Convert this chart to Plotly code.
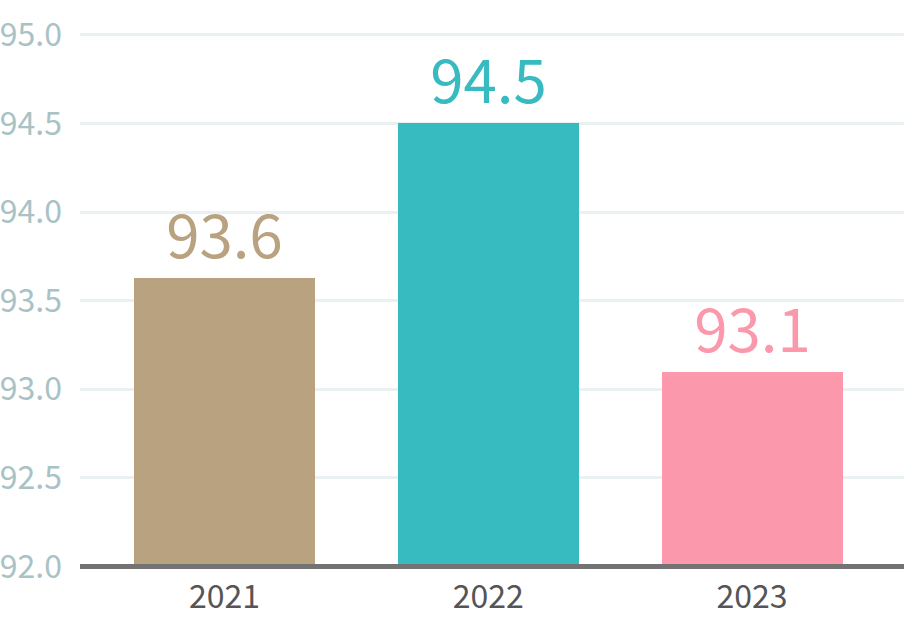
import plotly.graph_objects as go

years = ["2021", "2022", "2023"]
values = [93.63, 94.5, 93.1]
labels = ["93.6", "94.5", "93.1"]
colors = ["#b9a27f", "#38bbc0", "#fb98ab"]
ytick_vals = [92.0, 92.5, 93.0, 93.5, 94.0, 94.5, 95.0]

x_pos = list(range(len(years)))

fig = go.Figure()
fig.add_trace(go.Bar(
    x=x_pos,
    y=[v - 92.0 for v in values],
    base=92.0,
    width=0.686,
    marker=dict(color=colors, line=dict(width=0)),
    text=labels,
    textposition="outside",
    textfont=dict(family="Noto Sans CJK JP", size=60, color=colors),
    cliponaxis=False,
    hoverinfo="skip",
))

fig.update_layout(
    width=904, height=618,
    margin=dict(l=80, r=0, t=26, b=47.5, autoexpand=False),
    paper_bgcolor="white", plot_bgcolor="white",
    showlegend=False,
    bargap=0,
    xaxis=dict(
        range=[-0.548, 2.576],
        automargin=False,
        tickmode="array", tickvals=x_pos, ticktext=years,
        tickfont=dict(family="Noto Sans CJK JP", size=32, color="#555555"),
        showgrid=False, zeroline=False,
        showline=False, ticks="",
        ticklabelstandoff=5,
    ),
    yaxis=dict(
        range=[91.98, 95.05],
        automargin=False,
        tickmode="array", tickvals=ytick_vals,
        ticktext=[f"{v:.1f}" for v in ytick_vals],
        tickfont=dict(family="Noto Sans CJK JP", size=32, color="#a9c2c5"),
        showgrid=True, gridcolor="#e9f1f2", gridwidth=3,
        zeroline=False, showline=False, ticks="",
        ticklabelstandoff=17,
    ),
)

# baseline axis line
fig.add_shape(type="line", xref="paper", yref="y", x0=0, x1=1, y0=92.0, y1=92.0,
              line=dict(color="#737373", width=5), layer="above")

fig.write_html("out.html", config={"displayModeBar": False},
               post_script="document.body.style.margin='0';")
